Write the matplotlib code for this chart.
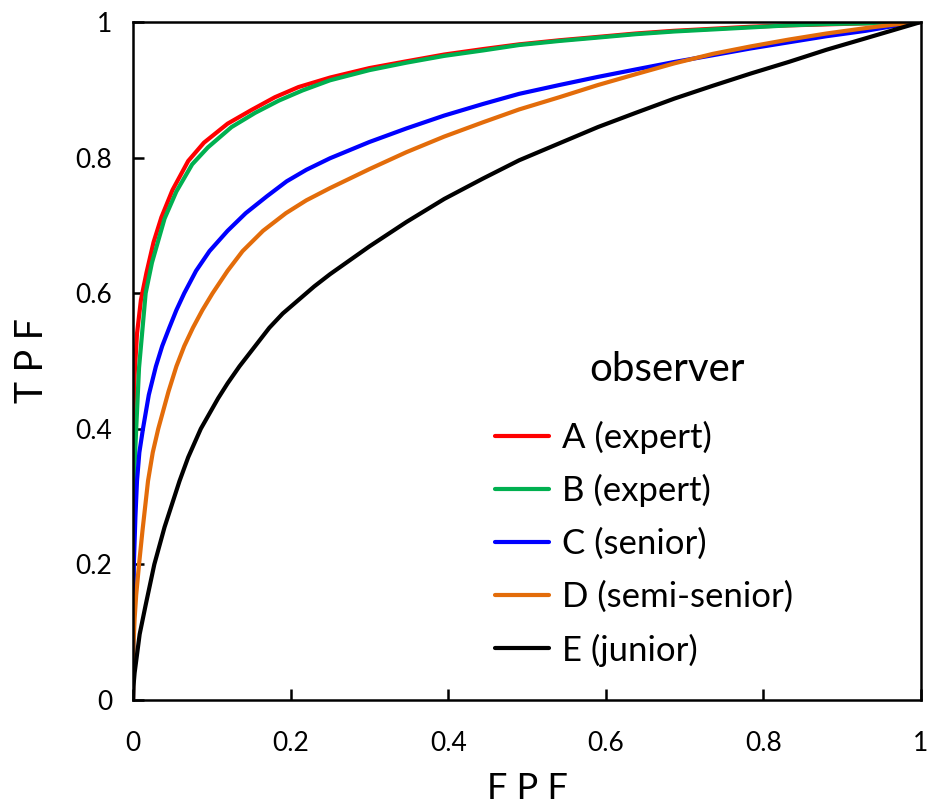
import matplotlib
matplotlib.use("Agg")
import matplotlib.pyplot as plt

plt.rcParams['font.family'] = ['Lato', 'DejaVu Sans']

# puntos (FPF, TPF)
fpf_a = [0, 0.0005, 0.002, 0.005, 0.010, 0.017, 0.026, 0.036, 0.05, 0.07, 0.09, 0.12, 0.15, 0.18,
         0.21, 0.25, 0.30, 0.347, 0.395, 0.444, 0.49, 0.541, 0.59, 0.638, 0.687, 0.736, 0.784,
         0.832, 0.93, 1]
tpf_a = [0, 0.42, 0.48, 0.54, 0.59, 0.63, 0.675, 0.712, 0.752, 0.795, 0.822, 0.850, 0.870, 0.889,
         0.904, 0.918, 0.932, 0.942, 0.952, 0.960, 0.967, 0.973, 0.978, 0.983, 0.987, 0.990, 0.993,
         0.995, 0.998, 1]

fpf_b = [0, 0.001, 0.004, 0.0076, 0.016, 0.024, 0.040, 0.055, 0.075, 0.095, 0.125, 0.155, 0.185,
         0.215, 0.25, 0.30, 0.347, 0.395, 0.444, 0.49, 0.541, 0.59, 0.638, 0.687, 0.736, 0.784,
         0.832, 0.88, 0.93, 1]
tpf_b = [0, 0.32, 0.40, 0.49, 0.60, 0.645, 0.71, 0.75, 0.79, 0.815, 0.845, 0.866, 0.884,
         0.899, 0.914, 0.929, 0.940, 0.950, 0.958, 0.966, 0.972, 0.977, 0.982, 0.986, 0.989, 0.992,
         0.995, 0.997, 0.998, 1]

fpf_c = [0, 0.0003, 0.001, 0.003, 0.005, 0.008, 0.0126, 0.02, 0.029, 0.037, 0.046, 0.055, 0.065,
         0.08, 0.097, 0.12, 0.143, 0.17, 0.195, 0.22, 0.25, 0.30, 0.347, 0.395, 0.444, 0.49, 0.541,
         0.59, 0.638, 0.687, 0.736, 0.784, 0.832, 0.88, 0.93, 0.965, 1]
tpf_c = [0, 0.15, 0.20, 0.27, 0.323, 0.365, 0.40, 0.45, 0.492, 0.522, 0.549, 0.575, 0.60,
         0.633, 0.662, 0.692, 0.718, 0.743, 0.765, 0.782, 0.799, 0.823, 0.843, 0.862, 0.879, 0.894, 0.907,
         0.919, 0.930, 0.941, 0.951, 0.961, 0.970, 0.979, 0.987, 0.994, 1]

fpf_d = [0, 0.0005, 0.002, 0.004, 0.0076, 0.012, 0.019, 0.025, 0.032, 0.045, 0.055, 0.065, 0.076,
         0.088, 0.101, 0.12, 0.139, 0.165, 0.194, 0.22, 0.25, 0.30, 0.347, 0.395, 0.444, 0.49, 0.541,
         0.59, 0.638, 0.687, 0.736, 0.784, 0.832, 0.88, 0.93, 0.965, 1]
tpf_d = [0, 0.08, 0.12, 0.155, 0.20, 0.25, 0.323, 0.365, 0.40, 0.455, 0.492, 0.522, 0.549,
         0.575, 0.60, 0.633, 0.662, 0.692, 0.718, 0.737, 0.755, 0.783, 0.808, 0.831, 0.852, 0.871, 0.889,
         0.907, 0.923, 0.939, 0.953, 0.964, 0.974, 0.983, 0.991, 0.996, 1]

fpf_e = [0, 0.0005, 0.002, 0.0084, 0.016, 0.027, 0.04, 0.059, 0.07, 0.086, 0.108, 0.12, 0.135,
         0.155, 0.173, 0.19, 0.21, 0.23, 0.25, 0.30, 0.347, 0.395, 0.444, 0.49, 0.541, 0.59, 0.638,
         0.687, 0.736, 0.784, 0.832, 0.88, 0.93, 0.965, 1]
tpf_e = [0, 0.02, 0.04, 0.097, 0.14, 0.20, 0.255, 0.323, 0.358, 0.40, 0.445, 0.467, 0.492,
         0.522, 0.549, 0.57, 0.59, 0.61, 0.628, 0.669, 0.705, 0.739, 0.769, 0.796, 0.821, 0.845, 0.866,
         0.887, 0.906, 0.924, 0.941, 0.959, 0.976, 0.988, 1]

etiquetas = ["A (expert)", "B (expert)", "C (senior)", "D (semi-senior)", "E (junior)"]
colores = ["#FF0000", "#00B050", "#0000FF", "#E36C0A", "#000000"]
curvas = [(fpf_a, tpf_a), (fpf_b, tpf_b), (fpf_c, tpf_c), (fpf_d, tpf_d), (fpf_e, tpf_e)]

fig = plt.figure(figsize=(9.33, 8.11), dpi=100)
ax = fig.add_axes([0.1426, 0.1369, 0.8445, 0.836])

for (x, y), lab, col in zip(curvas, etiquetas, colores):
    ax.plot(x, y, color=col, lw=3, label=lab, solid_joinstyle='round', solid_capstyle='round')

ax.set_xlim(0, 1)
ax.set_ylim(0, 1)
ax.set_xticks([0, 0.2, 0.4, 0.6, 0.8, 1])
ax.set_xticklabels(["0", "0.2", "0.4", "0.6", "0.8", "1"])
ax.set_yticks([0, 0.2, 0.4, 0.6, 0.8, 1])
ax.set_yticklabels(["0", "0.2", "0.4", "0.6", "0.8", "1"])
ax.tick_params(direction='in', length=8, width=1.8, labelsize=19)
ax.tick_params(axis='x', pad=22)
ax.tick_params(axis='y', pad=15)
for s in ax.spines.values():
    s.set_linewidth(1.8)

ax.set_xlabel("F P F", fontsize=26, labelpad=12)
ax.set_ylabel("T P F", fontsize=27, labelpad=18)

# titulo de la leyenda
ax.text(0.678, 0.487, "observer", transform=ax.transAxes, fontsize=29,
        ha='center', va='center')

leg = ax.legend(loc='upper left', bbox_to_anchor=(0.459, 0.412), frameon=False, fontsize=25,
                handlelength=1.55, handletextpad=0.4, labelspacing=0.59,
                borderpad=0, borderaxespad=0)
for l in leg.get_lines():
    l.set_linewidth(3)

fig.savefig("out.png", dpi=100)
